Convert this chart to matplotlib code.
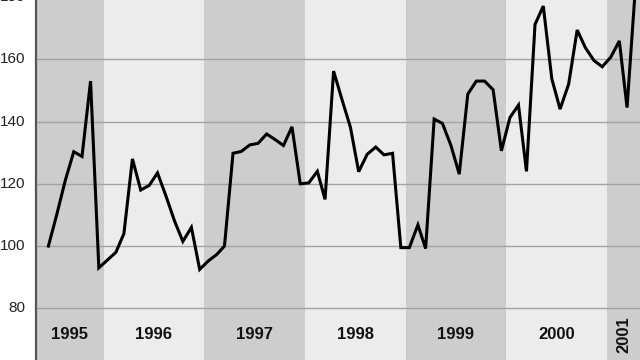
import matplotlib
matplotlib.use("Agg")
import matplotlib.pyplot as plt
import matplotlib.transforms as mtransforms
import numpy as np
import pandas as pd

# Monthly index values, June 1995 .. April 2001
start_month = "1995-06-01"
values = [
    100, 110, 121, 130.3, 128.8, 153, 93,                         # 1995 Jun-Dec
    95.5, 98, 104, 128, 118, 119.5, 123.5, 116, 108, 101.5, 106, 92.5,   # 1996
    95.2, 97.3, 100, 129.8, 130.4, 132.5, 133, 136, 134.2, 132.3, 138.3, 120,  # 1997
    120.3, 124, 115, 156.2, 147.2, 138.2, 123.9, 129.5, 131.8, 129.3, 129.8, 99.5,  # 1998
    99.5, 106.8, 99.2, 140.8, 139.4, 132.3, 123.1, 148.8, 153, 153, 150.2, 130.6,  # 1999
    141.3, 145.3, 124, 171.2, 177.1, 153.7, 144, 152, 169.4, 163.7, 159.6, 157.6,  # 2000
    160.7, 165.9, 144.5, 184,                                      # 2001 Jan-Apr
]
year_labels = ["1995", "1996", "1997", "1998", "1999", "2000", "2001"]
y_ticks = [80, 100, 120, 140, 160, 180]

dates = pd.date_range(start_month, periods=len(values), freq="MS") + pd.Timedelta(days=14)
x_start = pd.Timestamp("1995-05-01")
x_end = pd.Timestamp("2001-05-01")

dark = "#cdcdcd"
light = "#ececec"

fig = plt.figure(figsize=(6.4, 3.6), dpi=100)
ax = fig.add_axes([36 / 640, 0, 604 / 640, 1])
ax.set_facecolor(light)

for k, lab in enumerate(year_labels):
    y = int(lab)
    a = max(pd.Timestamp(f"{y}-01-01"), x_start)
    b = min(pd.Timestamp(f"{y + 1}-01-01"), x_end)
    ax.axvspan(a, b, color=dark if k % 2 == 0 else light, zorder=0, lw=0)
    mid = a + (b - a) / 2
    ax.text(mid, 71.5, lab, ha="center", va="center",
            rotation=90 if lab == "2001" else 0,
            fontsize=12, fontweight="bold", family="Liberation Sans", color="#111111")

for t in y_ticks:
    ax.axhline(t, color="#a3a3a3", lw=1.0, zorder=1)

ax.plot(dates, values, color="black", lw=2.2, zorder=3, solid_joinstyle="miter")

ax.set_xlim(x_start, x_end)
ax.set_ylim(63.4, 179.05)
ax.set_xticks([])
ax.set_yticks([])

trans = mtransforms.blended_transform_factory(ax.transAxes, ax.transData)
for t in y_ticks:
    ax.text(-0.018, t, str(t), transform=trans, ha="right", va="center",
            fontsize=11, family="Liberation Sans", color="#222222", clip_on=False)

for s in ["top", "right", "bottom"]:
    ax.spines[s].set_visible(False)
ax.spines["left"].set_color("#555555")
ax.spines["left"].set_linewidth(1.6)

fig.savefig("out.png", dpi=100)
